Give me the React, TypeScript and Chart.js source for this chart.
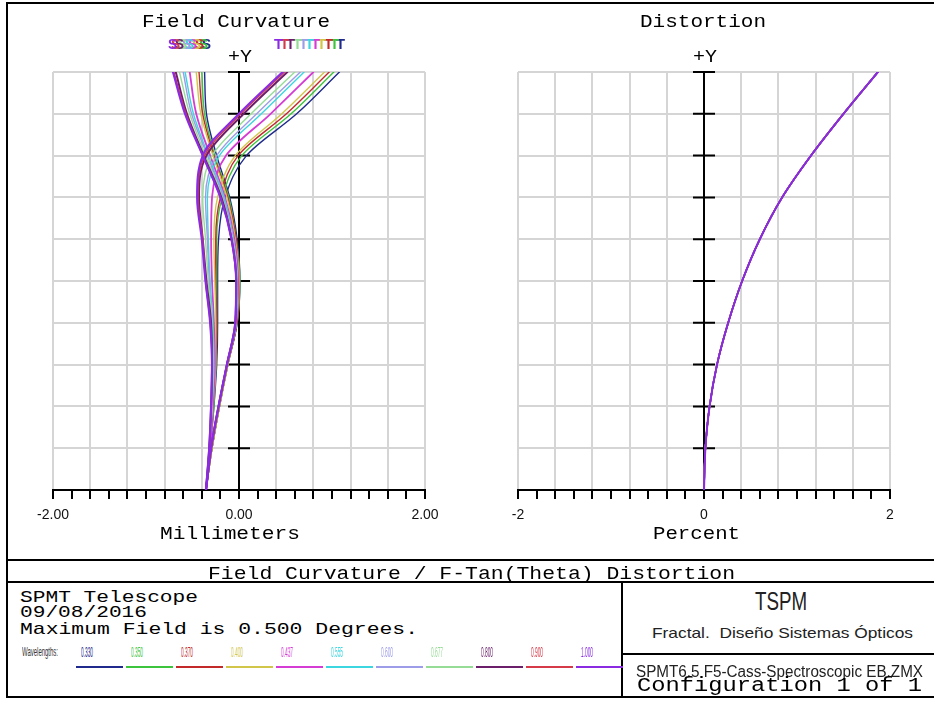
import React, { useEffect, useRef } from 'react';
import { Chart, registerables } from 'chart.js';

Chart.register(...registerables);

// ---------------- data ----------------
const fieldFraction = [0, 0.1, 0.2, 0.3, 0.4, 0.5, 0.6, 0.7, 0.8, 0.9, 1.0];

const wavelengthLabels = ['0.330', '0.350', '0.370', '0.400', '0.437', '0.555', '0.600', '0.677', '0.800', '0.900', '1.000'];
const waveColors = ['#1f2a8c', '#3dc43d', '#c22a2a', '#d2c64a', '#d43cd4', '#3cd6e0', '#9c9ce8', '#96dc96', '#6b1f6b', '#d43a48', '#8a2be2'];

// tangential field curvature (mm), one row per wavelength, sampled at fieldFraction
const tangentialMm = [
  [-0.355, -0.31, -0.27, -0.24, -0.23, -0.23, -0.22, -0.15, 0.08, 0.62, 1.08],
  [-0.355, -0.31, -0.27, -0.25, -0.24, -0.24, -0.24, -0.18, 0.03, 0.56, 1.02],
  [-0.355, -0.31, -0.28, -0.25, -0.24, -0.25, -0.25, -0.20, -0.01, 0.51, 0.97],
  [-0.355, -0.31, -0.28, -0.25, -0.25, -0.26, -0.27, -0.23, -0.04, 0.46, 0.92],
  [-0.355, -0.31, -0.28, -0.26, -0.27, -0.29, -0.30, -0.29, -0.14, 0.34, 0.80],
  [-0.355, -0.32, -0.29, -0.27, -0.28, -0.31, -0.33, -0.34, -0.21, 0.24, 0.70],
  [-0.355, -0.32, -0.29, -0.28, -0.29, -0.32, -0.34, -0.36, -0.24, 0.19, 0.66],
  [-0.355, -0.32, -0.29, -0.28, -0.29, -0.33, -0.36, -0.39, -0.29, 0.13, 0.60],
  [-0.355, -0.32, -0.30, -0.29, -0.30, -0.35, -0.39, -0.43, -0.35, 0.05, 0.52],
  [-0.355, -0.32, -0.30, -0.29, -0.31, -0.36, -0.39, -0.44, -0.37, 0.02, 0.49],
  [-0.355, -0.32, -0.30, -0.29, -0.31, -0.36, -0.40, -0.45, -0.39, 0.00, 0.47],
];

// sagittal field curvature (mm)
const sagittalMm = [
  [-0.355, -0.29, -0.21, -0.12, -0.02, 0.01, -0.02, -0.10, -0.24, -0.35, -0.37],
  [-0.355, -0.29, -0.21, -0.12, -0.02, 0.01, -0.03, -0.11, -0.26, -0.37, -0.40],
  [-0.355, -0.29, -0.21, -0.12, -0.02, 0.00, -0.03, -0.12, -0.27, -0.39, -0.43],
  [-0.355, -0.29, -0.21, -0.12, -0.03, 0.00, -0.04, -0.13, -0.28, -0.41, -0.46],
  [-0.355, -0.30, -0.22, -0.13, -0.03, -0.01, -0.05, -0.15, -0.31, -0.46, -0.53],
  [-0.355, -0.30, -0.22, -0.13, -0.03, -0.02, -0.06, -0.16, -0.33, -0.49, -0.58],
  [-0.355, -0.30, -0.22, -0.13, -0.03, -0.02, -0.06, -0.17, -0.34, -0.51, -0.60],
  [-0.355, -0.30, -0.22, -0.13, -0.04, -0.02, -0.07, -0.18, -0.36, -0.53, -0.64],
  [-0.355, -0.30, -0.22, -0.13, -0.04, -0.03, -0.08, -0.19, -0.38, -0.56, -0.68],
  [-0.355, -0.30, -0.22, -0.13, -0.04, -0.03, -0.08, -0.20, -0.39, -0.57, -0.70],
  [-0.355, -0.30, -0.22, -0.13, -0.04, -0.03, -0.08, -0.20, -0.39, -0.58, -0.71],
];

// F-Tan(Theta) distortion (%)
const distortionPct = [0, 0.015, 0.06, 0.14, 0.26, 0.41, 0.6, 0.84, 1.15, 1.5, 1.87];

const xTicks = [-2, -1.8, -1.6, -1.4, -1.2, -1, -0.8, -0.6, -0.4, -0.2, 0, 0.2, 0.4, 0.6, 0.8, 1, 1.2, 1.4, 1.6, 1.8, 2];
const fieldTicks = [0, 0.1, 0.2, 0.3, 0.4, 0.5, 0.6, 0.7, 0.8, 0.9, 1.0];
const mmTickLabels: Record<string, string> = { '-2': '-2.00', '0': '0.00', '2': '2.00' };
const pctTickLabels: Record<string, string> = { '-2': '-2', '0': '0', '2': '2' };
const xGridStep = 0.4;

// ---------------- helpers ----------------
const MONO = "'Liberation Mono', 'DejaVu Sans Mono', monospace";
const SANS = "'Liberation Sans', Arial, sans-serif";
const GRID = '#d5d5d5';

let measureCtx: CanvasRenderingContext2D | null = null;
function getMeasure() {
  if (!measureCtx && typeof document !== 'undefined') {
    measureCtx = document.createElement('canvas').getContext('2d');
  }
  return measureCtx;
}

function Txt(props: any) {
  const { text, x, base, size, family, width, align = 'left', color = '#000', weight = 'normal' } = props;
  let natural = text.length * size * 0.6;
  let asc = size * 0.83;
  let desc = size * 0.3;
  const mc = getMeasure();
  if (mc) {
    mc.font = `${weight} ${size}px ${family}`;
    const m = mc.measureText(text);
    natural = m.width;
    if ((m as any).fontBoundingBoxAscent) {
      asc = (m as any).fontBoundingBoxAscent;
      desc = (m as any).fontBoundingBoxDescent;
    }
  }
  const sx = width ? width / natural : 1;
  const w = natural * sx;
  const left = align === 'center' ? x - w / 2 : align === 'right' ? x - w : x;
  const top = base - (size / 2 + (asc - desc) / 2);
  return (
    <div
      style={{
        position: 'absolute',
        left,
        top,
        fontFamily: family,
        fontSize: size,
        fontWeight: weight,
        lineHeight: size + 'px',
        height: size,
        color,
        whiteSpace: 'pre',
        transform: `scaleX(${sx})`,
        transformOrigin: '0 0',
      }}
    >
      {text}
    </div>
  );
}

function Line(props: any) {
  const { x, y, w, h, color = '#000' } = props;
  return <div style={{ position: 'absolute', left: x, top: y, width: w, height: h, background: color }} />;
}

const centerAxis = {
  id: 'centerAxis',
  beforeDatasetsDraw(chart: any) {
    const { ctx, chartArea, scales } = chart;
    const x0 = scales.x.getPixelForValue(0);
    ctx.save();
    ctx.strokeStyle = '#000';
    ctx.lineWidth = 2;
    ctx.beginPath();
    ctx.moveTo(x0, chartArea.top);
    ctx.lineTo(x0, chartArea.bottom);
    for (const t of scales.y.ticks) {
      const y = scales.y.getPixelForValue(t.value);
      ctx.moveTo(x0 - 11, y);
      ctx.lineTo(x0 + 11, y);
    }
    ctx.stroke();
    ctx.restore();
  },
};

function makeOptions(padLeft: number, padRight: number, labels: Record<string, string>) {
  return {
    animation: false,
    responsive: false,
    indexAxis: 'y',
    events: [],
    layout: { padding: { left: padLeft, right: padRight, top: 72, bottom: 0 } },
    plugins: { legend: { display: false }, tooltip: { enabled: false }, title: { display: false } },
    elements: {
      point: { radius: 0 },
      line: { cubicInterpolationMode: 'monotone', borderCapStyle: 'round', borderJoinStyle: 'round' },
    },
    scales: {
      x: {
        type: 'linear',
        min: -2,
        max: 2,
        afterBuildTicks: (scale: any) => {
          scale.ticks = xTicks.map((v) => ({ value: v }));
        },
        afterFit: (scale: any) => {
          scale.height = 40;
        },
        ticks: {
          autoSkip: false,
          maxRotation: 0,
          minRotation: 0,
          padding: 8,
          color: '#111',
          font: { family: SANS, size: 14 },
          callback: (v: number) => labels[String(Math.round(v * 100) / 100)] ?? '',
        },
        grid: {
          color: (c: any) => {
            const v = c.tick ? c.tick.value : 0;
            const r = v / xGridStep;
            return Math.abs(r - Math.round(r)) < 1e-6 ? GRID : 'rgba(0,0,0,0)';
          },
          lineWidth: 2,
          drawTicks: true,
          tickLength: 9,
          tickColor: '#000',
          tickWidth: 2,
        },
        border: { display: true, color: '#000', width: 2 },
      },
      y: {
        type: 'linear',
        min: 0,
        max: 1,
        afterBuildTicks: (scale: any) => {
          scale.ticks = fieldTicks.map((v) => ({ value: v }));
        },
        afterFit: (scale: any) => {
          scale.width = 0;
        },
        ticks: { display: false },
        grid: { color: GRID, lineWidth: 2, drawTicks: false },
        border: { display: false },
      },
    },
  };
}

function fieldCurvatureDatasets() {
  const ds: any[] = [];
  for (let k = wavelengthLabels.length - 1; k >= 0; k--) {
    const bw = k === 10 ? 2.2 : k === 8 ? 2.0 : k === 4 ? 1.8 : 1.4;
    ds.push({
      label: 'T ' + wavelengthLabels[k],
      data: fieldFraction.map((f, i) => ({ x: tangentialMm[k][i], y: f })),
      borderColor: waveColors[k],
      borderWidth: bw,
      fill: false,
    });
    ds.push({
      label: 'S ' + wavelengthLabels[k],
      data: fieldFraction.map((f, i) => ({ x: sagittalMm[k][i], y: f })),
      borderColor: waveColors[k],
      borderWidth: bw,
      fill: false,
    });
  }
  return ds;
}

function distortionDatasets() {
  const ds: any[] = [];
  for (let k = wavelengthLabels.length - 1; k >= 0; k--) {
    ds.push({
      label: wavelengthLabels[k],
      data: fieldFraction.map((f, i) => ({ x: distortionPct[i], y: f })),
      borderColor: waveColors[k],
      borderWidth: k === 10 ? 2 : 1.5,
      fill: false,
    });
  }
  return ds;
}

function PlotCanvas(props: any) {
  const { left, padLeft, padRight, labels, datasets } = props;
  const ref = useRef<HTMLCanvasElement | null>(null);
  useEffect(() => {
    if (!ref.current) return;
    const chart = new Chart(ref.current, {
      type: 'line',
      data: { datasets: datasets() },
      options: makeOptions(padLeft, padRight, labels) as any,
      plugins: [centerAxis],
    });
    return () => chart.destroy();
  }, []);
  return (
    <canvas
      ref={ref}
      width={467}
      height={530}
      style={{ position: 'absolute', left, top: 0, width: 467, height: 530 }}
    />
  );
}

export default function App() {
  return (
    <div
      style={{
        position: 'absolute',
        left: 0,
        top: 0,
        width: 934,
        height: 702,
        overflow: 'hidden',
        background: '#fff',
      }}
    >
      <PlotCanvas left={0} padLeft={53} padRight={42} labels={mmTickLabels} datasets={fieldCurvatureDatasets} />
      <PlotCanvas left={467} padLeft={51} padRight={44} labels={pctTickLabels} datasets={distortionDatasets} />

      {/* frame */}
      <Line x={6} y={2} w={928} h={2} />
      <Line x={6} y={2} w={2} h={696} />
      <Line x={6} y={696} w={928} h={2} />
      <Line x={6} y={559} w={928} h={2} />
      <Line x={6} y={581} w={928} h={2} />
      <Line x={621} y={581} w={2} h={117} />
      <Line x={621} y={653} w={313} h={2} />

      {/* plot titles */}
      <Txt text="Field Curvature" x={236} base={27} size={19} family={MONO} width={188} align="center" />
      <Txt text="Distortion" x={703} base={27} size={19} family={MONO} width={126} align="center" />
      <Txt text="+Y" x={240} base={62} size={18} family={MONO} width={24} align="center" />
      <Txt text="+Y" x={705} base={62} size={18} family={MONO} width={24} align="center" />
      <Txt text="Millimeters" x={230} base={539} size={19} family={MONO} width={140} align="center" />
      <Txt text="Percent" x={696} base={539} size={19} family={MONO} width={87} align="center" />

      {/* S / T legend marks */}
      {waveColors.map((c, k) => (
        <Txt key={'s' + k} text="S" x={168 + (10 - k) * 3.4} base={49} size={15} family={SANS} weight="bold" width={9} color={c} />
      ))}
      {waveColors.map((c, k) => (
        <Txt key={'t' + k} text="T" x={274 + (10 - k) * 6.2} base={49} size={15} family={SANS} weight="bold" width={9} color={c} />
      ))}

      {/* info box */}
      <Txt text="Field Curvature / F-Tan(Theta) Distortion" x={471} base={579} size={18} family={MONO} width={527} align="center" />
      <Txt text="SPMT Telescope" x={20} base={602} size={17} family={MONO} width={178} />
      <Txt text="09/08/2016" x={20} base={617} size={17} family={MONO} width={127} />
      <Txt text="Maximum Field is 0.500 Degrees." x={20} base={634} size={17} family={MONO} width={398} />
      <Txt text="Wavelengths:" x={22} base={656} size={13} family={SANS} width={36} color="#333" />
      {wavelengthLabels.map((w, i) => (
        <Txt key={'wl' + i} text={w} x={81 + 50 * i} base={657} size={15} family={SANS} width={12} color={waveColors[i]} />
      ))}
      {waveColors.map((c, i) => (
        <Line key={'wu' + i} x={76 + 50 * i} y={666} w={47} h={2} color={c} />
      ))}

      <Txt text="TSPM" x={781} base={610} size={25} family={SANS} width={52} align="center" color="#222" />
      <Txt text="Fractal.  Diseño Sistemas Ópticos" x={782} base={638} size={15} family={SANS} width={261} align="center" color="#222" />
      <Txt text="SPMT6.5 F5-Cass-Spectroscopic EB.ZMX" x={636} base={677} size={16} family={SANS} width={287} color="#222" />
      <Txt text="Configuration 1 of 1" x={637} base={691} size={20} family={MONO} width={285} />
    </div>
  );
}
